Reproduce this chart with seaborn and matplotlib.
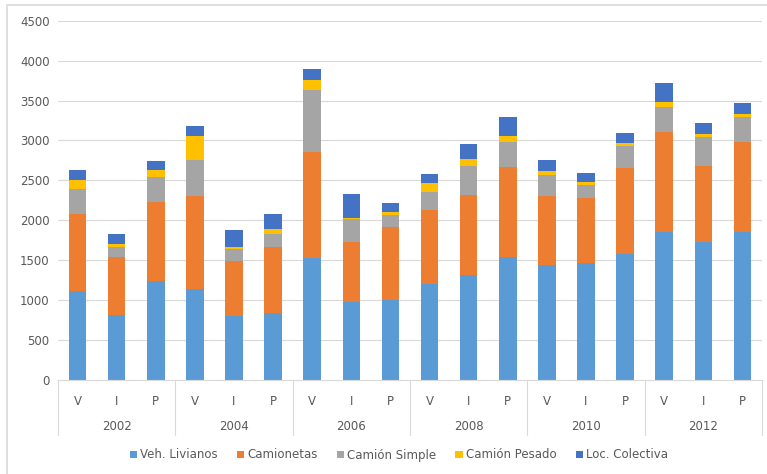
import matplotlib
matplotlib.use("Agg")
import matplotlib.pyplot as plt
import matplotlib.transforms as mtransforms
from matplotlib.patches import Rectangle
import numpy as np
import seaborn as sns

# Years, periods within each year, and vehicle categories
years = ["2002", "2004", "2006", "2008", "2010", "2012"]
periods = ["V", "I", "P"]
series_names = ["Veh. Livianos", "Camionetas", "Camión Simple", "Camión Pesado", "Loc. Colectiva"]
series_colors = ["#5B9BD5", "#ED7D31", "#A5A5A5", "#FFC000", "#4472C4"]

veh_livianos = [1120, 815, 1240, 1135, 805, 845, 1530, 975, 1000, 1200, 1315, 1545, 1440, 1460, 1580, 1855, 1730, 1855]
camionetas = [960, 720, 990, 1170, 680, 825, 1325, 755, 910, 930, 1005, 1125, 865, 820, 1070, 1250, 950, 1130]
camion_simple = [310, 135, 310, 450, 150, 160, 775, 290, 155, 225, 365, 315, 260, 160, 285, 310, 365, 305]
camion_pesado = [115, 35, 90, 300, 25, 65, 125, 15, 35, 115, 85, 70, 55, 40, 35, 65, 40, 40]
loc_colectiva = [125, 120, 115, 125, 215, 190, 140, 290, 120, 115, 185, 245, 135, 115, 125, 240, 135, 140]

series_values = [veh_livianos, camionetas, camion_simple, camion_pesado, loc_colectiva]
y_ticks = [0, 500, 1000, 1500, 2000, 2500, 3000, 3500, 4000, 4500]

sns.set_theme(style="white")
plt.rcParams["font.family"] = ["Liberation Sans Narrow", "DejaVu Sans"]

TEXT = "#595959"
GRID = "#D9D9D9"
W, H = 767, 474

keys = [f"{y}-{p}" for y in years for p in periods]

fig = plt.figure(figsize=(W / 100, H / 100), dpi=100)
ax = fig.add_axes([58 / W, 94 / H, 704 / W, 359.3 / H])

# Stacked bars: draw cumulative totals from the top layer down
tops = np.cumsum(np.array(series_values, dtype=float), axis=0)
for color, top in reversed(list(zip(series_colors, tops))):
    sns.barplot(x=keys, y=top, order=keys, color=color, width=0.45,
                saturation=1, linewidth=0, ax=ax)

ax.set_xlim(-0.5, len(keys) - 0.5)
ax.set_ylim(0, 4500)
ax.set_yticks(y_ticks)
ax.set_yticklabels([str(t) for t in y_ticks])
ax.yaxis.grid(True, color=GRID, linewidth=0.8)
ax.set_axisbelow(True)
ax.set_xlabel("")
ax.set_ylabel("")

for s in ["left", "top", "right"]:
    ax.spines[s].set_visible(False)
ax.spines["bottom"].set_color(GRID)
ax.spines["bottom"].set_linewidth(0.8)

ax.set_xticks(range(len(keys)))
ax.set_xticklabels(periods * len(years))
ax.tick_params(axis="x", length=0, pad=10.5, labelsize=8.5, labelcolor=TEXT)
ax.tick_params(axis="y", length=0, pad=6, labelsize=8.5, labelcolor=TEXT)

# Year labels and group separators below the period labels
trans = mtransforms.blended_transform_factory(ax.transData, ax.transAxes)
ax_h = 359.3
for i, yr in enumerate(years):
    ax.text(i * 3 + 1, -(427 - 380) / ax_h, yr, transform=trans,
            ha="center", va="center", fontsize=8.5, color=TEXT)
for i in range(len(years) + 1):
    x = i * 3 - 0.5
    ax.plot([x, x], [0, -(435 - 380) / ax_h], transform=trans,
            color=GRID, linewidth=0.8, clip_on=False)

# Legend
handles = [Rectangle((0, 0), 1, 1, facecolor=c, edgecolor="none") for c in series_colors]
fig.legend(handles, series_names, loc="center", bbox_to_anchor=(399 / W, 1 - 455 / H),
           ncol=5, frameon=False, handlelength=0.6, handleheight=0.6,
           handletextpad=0.3, columnspacing=1.6, fontsize=8.5, labelcolor=TEXT)

# Chart area border
fig.patches.append(Rectangle((7 / W, -0.1), 1.2, (H - 5) / H + 0.1,
                             transform=fig.transFigure, fill=False,
                             edgecolor=GRID, linewidth=1.2))

fig.savefig("out.png", dpi=100)
